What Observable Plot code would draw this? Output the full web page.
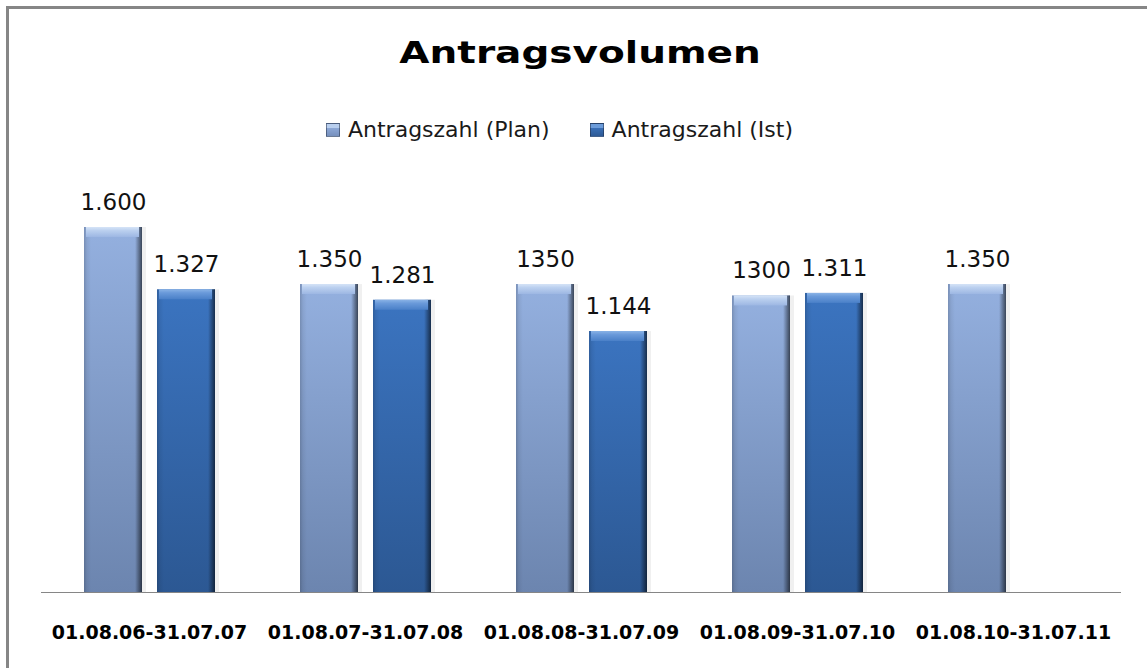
<!DOCTYPE html>
<html>
<head>
<meta charset="utf-8">
<script src="https://cdn.jsdelivr.net/npm/d3@7"></script>
<script src="https://cdn.jsdelivr.net/npm/@observablehq/plot@0.6"></script>
<style>
  html, body { margin:0; padding:0; background:#fff; }
  body { position:relative; width:1147px; height:668px; overflow:hidden; font-family:"DejaVu Sans", sans-serif; }
  #frame { position:absolute; left:6px; top:6px; width:1400px; height:900px; border-top:3px solid #868686; border-left:3px solid #868686; }
  #title { position:absolute; left:0; width:1147px; top:38px; text-align:center; line-height:30px; height:30px; }
  #title span { display:inline-block; font-size:30px; font-weight:bold; color:#000; transform:scaleX(1.3); transform-origin:center; margin-left:14px; }
  #legend { position:absolute; left:-14px; width:1147px; top:119px; height:22px; line-height:22px; display:flex; justify-content:center; font-size:22px; color:#1a1a1a; }
  #legend .item { display:flex; align-items:center; margin:0 20px; }
  #legend .sw { width:14px; height:14px; margin-right:8px; box-sizing:border-box; border:1px solid rgba(30,40,60,0.5); }
  #chart { position:absolute; left:0; top:150px; width:1147px; height:518px; overflow:hidden; }
</style>
</head>
<body>
<div id="frame"></div>
<div id="title"><span>Antragsvolumen</span></div>
<div id="legend"></div>
<div id="chart"></div>
<script>
const categories = ["01.08.06-31.07.07", "01.08.07-31.07.08", "01.08.08-31.07.09", "01.08.09-31.07.10", "01.08.10-31.07.11"];
const series = ["Antragszahl (Plan)", "Antragszahl (Ist)"];
const planValues = [1600, 1350, 1350, 1300, 1350];
const istValues = [1327, 1281, 1144, 1311, null];
const planLabels = ["1.600", "1.350", "1350", "1300", "1.350"];
const istLabels = ["1.327", "1.281", "1.144", "1.311", ""];

const data = [];
categories.forEach((c, i) => {
  if (planValues[i] != null) data.push({cat: c, s: series[0], v: planValues[i], label: planLabels[i]});
  if (istValues[i] != null) data.push({cat: c, s: series[1], v: istValues[i], label: istLabels[i]});
});
const plan = data.filter(d => d.s === series[0]);
const ist = data.filter(d => d.s === series[1]);

// legend
const legend = document.getElementById("legend");
[[series[0], "linear-gradient(#b9cfef 0 30%, #8EA9D8 30%, #7690bd)"], [series[1], "linear-gradient(#6c9cda 0 30%, #3A70B8 30%, #2d5a96)"]].forEach(([name, bg]) => {
  const it = document.createElement("div"); it.className = "item";
  const sw = document.createElement("div"); sw.className = "sw"; sw.style.background = bg;
  const tx = document.createElement("span"); tx.textContent = name;
  it.appendChild(sw); it.appendChild(tx); legend.appendChild(it);
});

const chart = Plot.plot({
  width: 1147,
  height: 518,
  marginLeft: 41,
  marginRight: 26,
  marginTop: 77,
  marginBottom: 76,
  style: {fontFamily: "DejaVu Sans", background: "transparent"},
  fx: {domain: categories, padding: 0, label: null},
  x: {domain: series, paddingInner: 0.2055, paddingOuter: 0.582, axis: null},
  y: {domain: [0, 1600], axis: null},
  marks: [
    Plot.barY(data, {fx: "cat", x: "s", y: "v", fill: "rgba(0,0,0,0.06)", dx: 4}),
    Plot.barY(plan, {fx: "cat", x: "s", y: "v", fill: "url(#gPlan)"}),
    Plot.barY(ist, {fx: "cat", x: "s", y: "v", fill: "url(#gIst)"}),
    Plot.barY(data, {fx: "cat", x: "s", y: "v", fill: "url(#gEdge)"}),
    Plot.barY(plan, {fx: "cat", x: "s", y1: "v", y2: "v", insetBottom: -10, insetLeft: 2, insetRight: 3, fill: "url(#gTopPlan)"}),
    Plot.barY(ist, {fx: "cat", x: "s", y1: "v", y2: "v", insetBottom: -10, insetLeft: 2, insetRight: 3, fill: "url(#gTopIst)"}),
    Plot.ruleY([0], {stroke: "#868686", strokeWidth: 1}),
    Plot.text(data, {fx: "cat", x: "s", y: "v", text: "label", dy: -25, fontSize: 23, fill: "#111"}),
    Plot.axisFx({anchor: "bottom", tickSize: 0, tickPadding: 33, fontSize: 19, fontWeight: "bold", fill: "#000", label: null})
  ]
});

const ns = "http://www.w3.org/2000/svg";
const defs = document.createElementNS(ns, "defs");
function grad(id, vertical, stops) {
  const g = document.createElementNS(ns, "linearGradient");
  g.setAttribute("id", id);
  g.setAttribute("x1", "0"); g.setAttribute("y1", "0");
  g.setAttribute("x2", vertical ? "0" : "1"); g.setAttribute("y2", vertical ? "1" : "0");
  stops.forEach(([o, c, a]) => {
    const s = document.createElementNS(ns, "stop");
    s.setAttribute("offset", o); s.setAttribute("stop-color", c);
    if (a != null) s.setAttribute("stop-opacity", a);
    g.appendChild(s);
  });
  defs.appendChild(g);
}
grad("gPlan", true, [["0", "#94B0DF"], ["1", "#6C85AF"]]);
grad("gIst", true, [["0", "#3B74C0"], ["1", "#2C5893"]]);
grad("gEdge", false, [["0", "#000", 0.18], ["0.05", "#000", 0.06], ["0.12", "#000", 0], ["0.88", "#000", 0], ["0.93", "#000", 0.25], ["1", "#000", 0.6]]);
grad("gTopPlan", true, [["0", "#D6E4F7"], ["0.35", "#BBD0EF"], ["1", "#9DB7E3"]]);
grad("gTopIst", true, [["0", "#8AB3E6"], ["0.35", "#6A9ADA"], ["1", "#4A80C8"]]);
chart.insertBefore(defs, chart.firstChild);

document.getElementById("chart").appendChild(chart);
</script>
</body>
</html>
